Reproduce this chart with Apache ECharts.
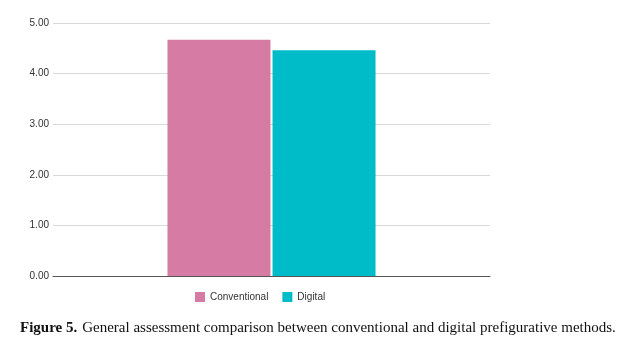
<!DOCTYPE html>
<html>
<head>
<meta charset="utf-8">
<script src="https://cdn.jsdelivr.net/npm/echarts@6/dist/echarts.min.js"></script>
<style>
  html, body { margin: 0; padding: 0; background: #fff; }
  #chart { width: 632px; height: 348px; }
</style>
</head>
<body>
<div id="chart"></div>
<script>
// Mean general assessment score per prefigurative method
const categories = ['General assessment'];
const conventional = [4.67];
const digital = [4.46];
const yTicks = [0, 1, 2, 3, 4, 5];

const chart = echarts.init(document.getElementById('chart'));
chart.setOption({
  animation: false,
  grid: { left: 53, right: 142, top: 23, bottom: 72 },
  title: {
    left: 15,
    top: 314,
    text: '{b|Figure 5.} {r|General assessment comparison between conventional and digital prefigurative methods.}',
    textStyle: {
      fontWeight: 'normal',
      rich: {
        b: { fontFamily: 'Liberation Serif', fontWeight: 'bold', fontSize: 15, color: '#111' },
        r: { fontFamily: 'Liberation Serif', fontWeight: 'normal', fontSize: 15, color: '#111' }
      }
    }
  },
  legend: {
    top: 287,
    left: 190,
    itemWidth: 10,
    itemHeight: 10,
    itemGap: 14,
    icon: 'rect',
    textStyle: { fontFamily: 'Liberation Sans', fontSize: 10, color: '#333' },
    data: ['Conventional', 'Digital']
  },
  xAxis: {
    type: 'category',
    data: categories,
    axisLine: { lineStyle: { color: '#555', width: 1 } },
    axisTick: { show: false },
    axisLabel: { show: false }
  },
  yAxis: {
    type: 'value',
    min: yTicks[0],
    max: yTicks[yTicks.length - 1],
    interval: 1,
    axisLine: { show: false },
    axisTick: { show: false },
    splitLine: { lineStyle: { color: '#d9d9d9', width: 1 } },
    axisLabel: {
      margin: 4,
      fontFamily: 'Liberation Sans',
      fontSize: 10,
      color: '#333',
      formatter: v => v.toFixed(2)
    }
  },
  series: [
    {
      name: 'Conventional',
      type: 'bar',
      data: conventional,
      barWidth: 103,
      barGap: '2%',
      itemStyle: { color: '#d67ca4' }
    },
    {
      name: 'Digital',
      type: 'bar',
      data: digital,
      barWidth: 103,
      itemStyle: { color: '#00bcc9' }
    }
  ]
});
</script>
</body>
</html>
